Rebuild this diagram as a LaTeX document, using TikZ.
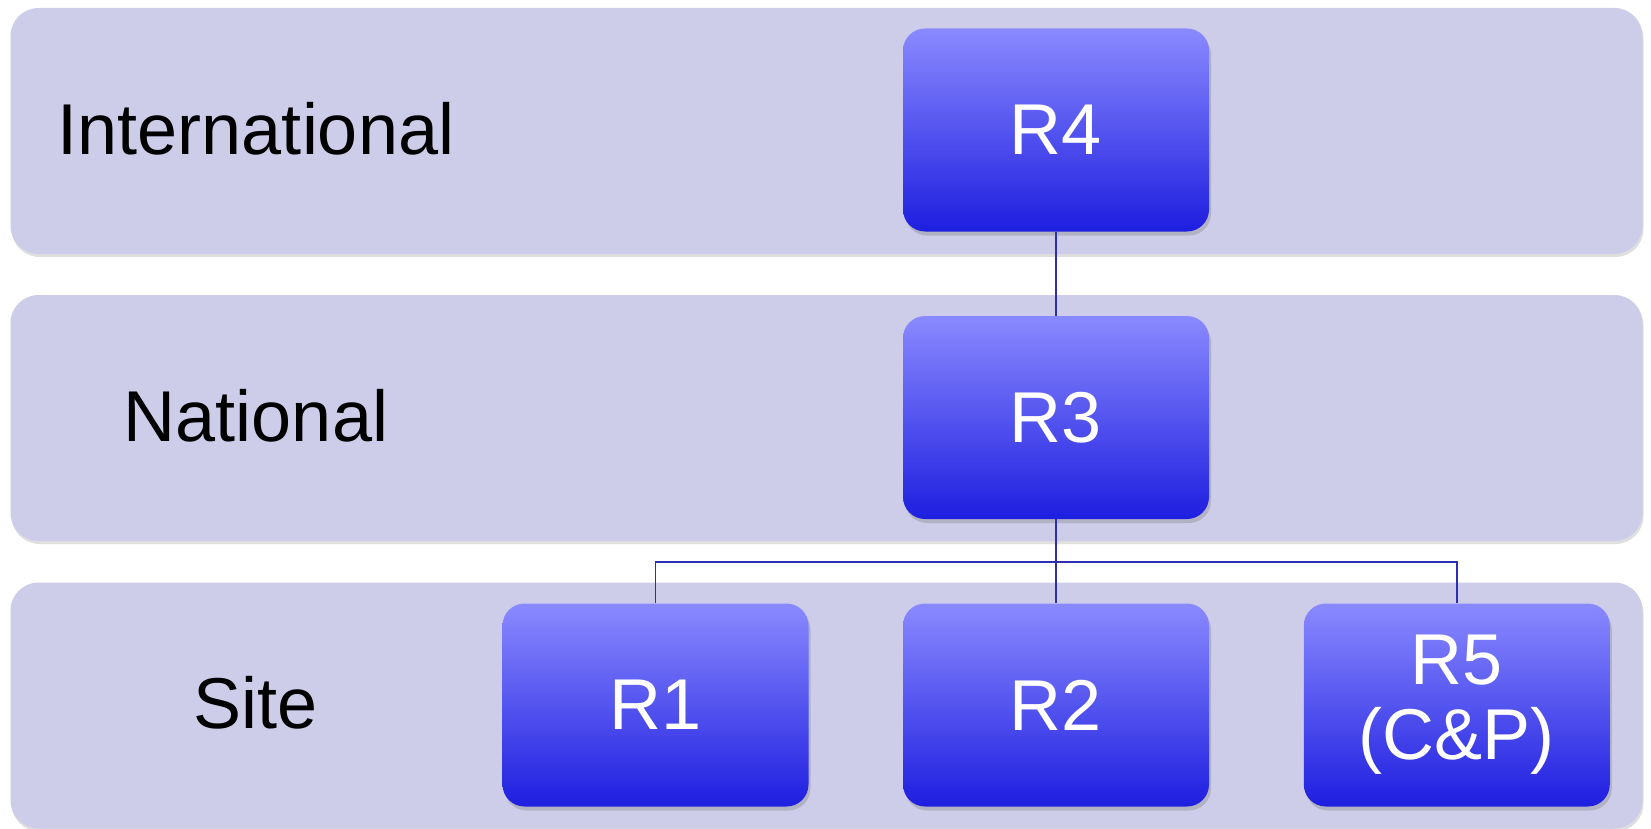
\documentclass[tikz,border=0pt]{standalone}
\usepackage{fontspec}
\setmainfont{Liberation Sans}
\usepackage{tikz}
\usetikzlibrary{shapes,positioning,shadows}
\definecolor{bandfill}{HTML}{CDCDEA}
\definecolor{boxtop}{HTML}{8A8AFF}
\definecolor{boxmid}{HTML}{7474F6}
\definecolor{boxbot}{HTML}{1E1EE0}
\definecolor{linkblue}{HTML}{2E2EB4}
\begin{document}
\begin{tikzpicture}[x=1pt,y=-1pt]
                \tikzstyle{band}=[fill=bandfill, rounded corners=28pt, minimum width=1632pt, minimum height=246pt, inner sep=0pt,
                    drop shadow={shadow xshift=1pt, shadow yshift=-3pt, opacity=0.25}]
                \tikzstyle{level}=[font=\fontsize{72}{75}\selectfont, text=black]
                \tikzstyle{role}=[rounded corners=22pt, minimum width=306pt, minimum height=203pt, inner sep=0pt,
                    top color=boxtop, middle color=boxmid, bottom color=boxbot, text=white, align=center,
                    font=\fontsize{72}{75}\selectfont,
                    drop shadow={shadow xshift=2pt, shadow yshift=-4pt, opacity=0.35}]
                \tikzstyle{link}=[draw=linkblue, line width=1.8pt]
                \useasboundingbox (0,0) rectangle (1651,829);
                \node [band] (intl) at (826.5,131) {};
                \node [band] (natl) at (826.5,418) {};
                \node [band] (site) at (826.5,705.5) {};
                \node [level] (intllabel) at (256,129) {International};
                \node [level] (natllabel) at (256,416) {National};
                \node [level] (sitelabel) at (256,703) {Site};
                \node [role] (r4) at (1056,130) {R4};
                \node [role] (r3) at (1056,417.5) {R3};
                \node [role] (r1) at (655.5,705) {R1};
                \node [role] (r2) at (1056,705) {R2};
                \node [role] (r5) at (1456.8,705) {R5\\(C\&P)};
                \coordinate (bus) at (1056,562);
                \draw [link] (r4.south) -- (r3.north);
                \draw [link] (r3.south) -- (r2.north);
                \draw [link] (r1.north) |- (bus) -| (r5.north);
            \end{tikzpicture}
\end{document}
